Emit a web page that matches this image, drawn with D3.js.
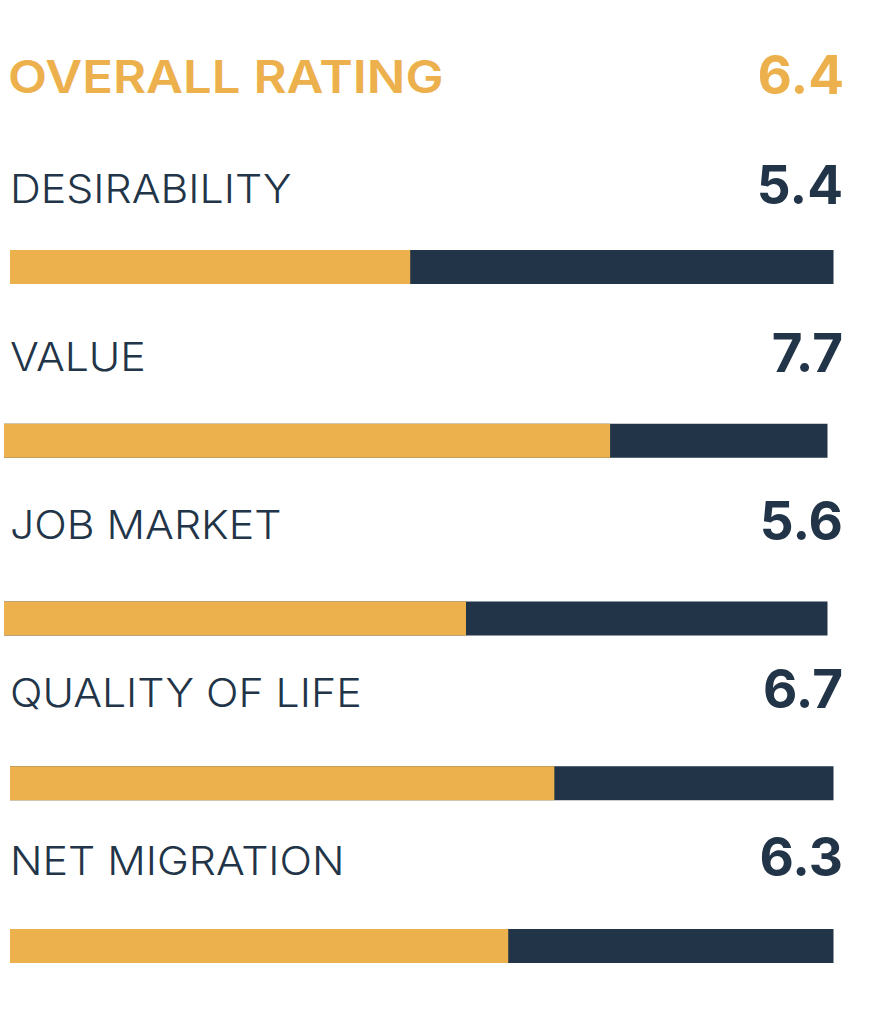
<!DOCTYPE html>
<html>
<head>
<meta charset="utf-8">
<script src="https://cdn.jsdelivr.net/npm/d3@7"></script>
<style>
  body { margin: 0; background: #ffffff; }
  svg { display: block; }
</style>
</head>
<body>
<svg id="chart"></svg>
<script>
const overallLabel = "OVERALL RATING";
const overallScore = "6.4";
const categories = ["DESIRABILITY", "VALUE", "JOB MARKET", "QUALITY OF LIFE", "NET MIGRATION"];
const scores = ["5.4", "7.7", "5.6", "6.7", "6.3"];
// orange part of each bar (out of 10)
const barFill = [4.86, 7.36, 5.61, 6.61, 6.05];

const width = 884;
const height = 1012;
const orange = "#ecb04d";
const navy = "#223447";
const fontFamily = "Inter, 'Open Sans', sans-serif";

// small per-row nudges so the bars sit where they do in the picture
const barShiftX = [0, -6, -6, 0, 0];
const barShiftY = [0, 4, 12, 7, 0];

const svg = d3.select("#chart").attr("width", width).attr("height", height);

const rowY = d3.scalePoint().domain(categories).range([203, 875]);
const barY = d3.scalePoint().domain(categories).range([250, 929]);
const x = d3.scaleLinear().domain([0, 10]).range([10, 833.5]);
const barHeight = 34;

// the original face (Montserrat) is wider than Inter, so widen the text a bit
const stretch = (sel, factor) => {
  sel.each(function () {
    const w = this.getComputedTextLength();
    d3.select(this)
      .attr("textLength", w * factor)
      .attr("lengthAdjust", "spacingAndGlyphs");
  });
};

svg.append("text")
  .attr("x", 8)
  .attr("y", 93)
  .attr("fill", orange)
  .style("font-family", fontFamily)
  .style("font-weight", 600)
  .style("font-size", "45px")
  .text(overallLabel)
  .call(stretch, 1.13);

svg.append("text")
  .attr("x", 844)
  .attr("y", 94)
  .attr("text-anchor", "end")
  .attr("fill", orange)
  .style("font-family", fontFamily)
  .style("font-weight", 700)
  .style("font-size", "53px")
  .text(overallScore);

const rows = svg.selectAll("g.row")
  .data(categories)
  .enter()
  .append("g")
  .attr("class", "row");

rows.append("text")
  .attr("x", 10)
  .attr("y", (d) => rowY(d))
  .attr("fill", navy)
  .style("font-family", fontFamily)
  .style("font-weight", 300)
  .style("font-size", "40px")
  .text((d) => d)
  .call(stretch, 1.07);

rows.append("text")
  .attr("x", 843)
  .attr("y", (d) => rowY(d) + 1)
  .attr("text-anchor", "end")
  .attr("fill", navy)
  .style("font-family", fontFamily)
  .style("font-weight", 700)
  .style("font-size", "53px")
  .text((d, i) => scores[i]);

rows.append("rect")
  .attr("x", (d, i) => x(0) + barShiftX[i])
  .attr("y", (d, i) => barY(d) + barShiftY[i])
  .attr("width", x(10) - x(0))
  .attr("height", barHeight)
  .attr("fill", navy);

rows.append("rect")
  .attr("x", (d, i) => x(0) + barShiftX[i])
  .attr("y", (d, i) => barY(d) + barShiftY[i])
  .attr("width", (d, i) => x(barFill[i]) - x(0))
  .attr("height", barHeight)
  .attr("fill", orange);
</script>
</body>
</html>
